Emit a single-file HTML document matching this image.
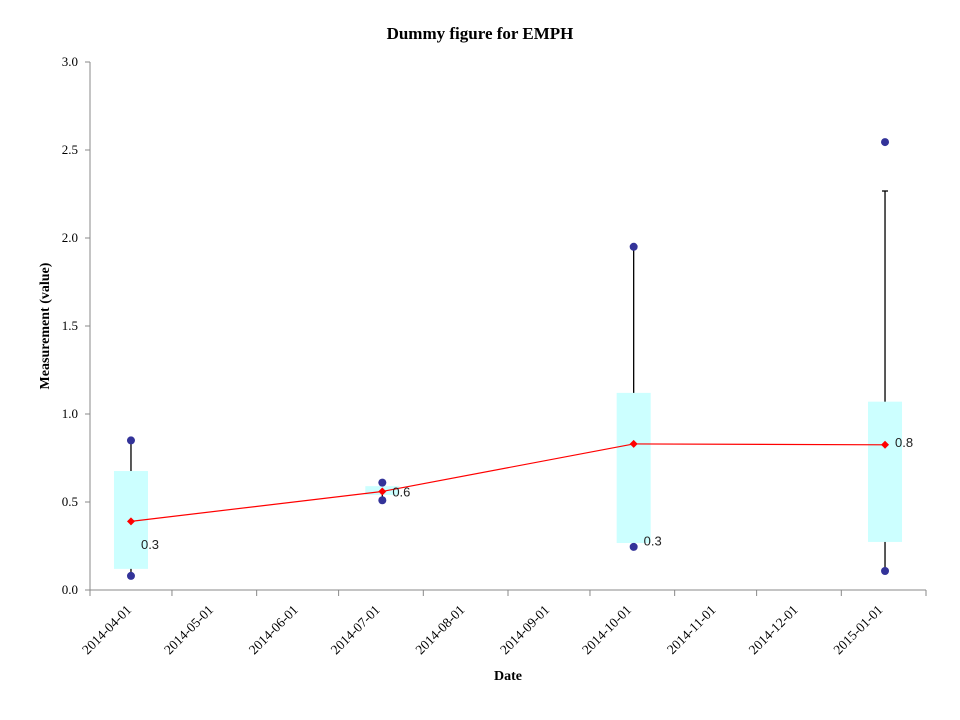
<!DOCTYPE html>
<html><head><meta charset="utf-8"><style>
body{margin:0;background:#fff}
svg{display:block}
.serif{font-family:"Liberation Serif",serif}
.sans{font-family:"Liberation Sans",sans-serif}
</style></head><body>
<svg id="chart" width="960" height="720">
<text class="serif" x="480" y="39" text-anchor="middle" font-size="17" font-weight="bold">Dummy figure for EMPH</text>
<text class="serif" transform="translate(49,326) rotate(-90)" text-anchor="middle" font-size="14" font-weight="bold">Measurement (value)</text>
<text class="serif" x="508" y="680" text-anchor="middle" font-size="14" font-weight="bold">Date</text>
<g id="axes"></g>
<g id="marks"></g>
</svg>
<script>
const tickDates=["2014-04-01","2014-05-01","2014-06-01","2014-07-01","2014-08-01","2014-09-01","2014-10-01","2014-11-01","2014-12-01","2015-01-01"];
const yTicks=[0,0.5,1.0,1.5,2.0,2.5,3.0];
const groupDates=["2014-04-16","2014-07-17","2014-10-17","2015-01-17"];
const boxLow=[0.12,0.54,0.267,0.273];
const boxHigh=[0.676,0.59,1.12,1.07];
const whiskerLow=[0.08,0.51,0.245,0.108];
const whiskerHigh=[0.85,0.61,1.95,2.267];
const outliersHigh=[0.85,0.61,1.95,2.545];
const outliersLow=[0.08,0.51,0.245,0.108];
const means=[0.39,0.56,0.83,0.825];
const labelText=["0.3","0.6","0.3","0.8"];
const labelValues=[0.26,0.56,0.28,0.84];

const NS="http://www.w3.org/2000/svg";
const X0=90,X1=926,Y0=590,Y1=62;
const d0=Date.parse("2014-04-01"),d1=Date.parse("2015-02-01");
const xs=d=>X0+(Date.parse(d)-d0)/(d1-d0)*(X1-X0);
const ys=v=>Y0-(v/3)*(Y0-Y1);
function mk(tag,attrs,parent){const e=document.createElementNS(NS,tag);for(const k in attrs)e.setAttribute(k,attrs[k]);parent.appendChild(e);return e;}
const axes=document.getElementById('axes'),marks=document.getElementById('marks');

let ax=mk('line',{x1:X0,y1:Y1,x2:X0,y2:Y0,stroke:'#888'},axes);


let bx=mk('line',{x1:X0,y1:Y0,x2:X1,y2:Y0,stroke:'#888'},axes);


yTicks.forEach(v=>{
  const y=ys(v);
  let t=mk('line',{x1:X0-5,y1:y,x2:X0,y2:y,stroke:'#888'},axes);
  
  
  let l=mk('text',{x:X0-12,y:y+4,'text-anchor':'end','font-size':13,class:'serif'},axes);
  l.textContent=v.toFixed(1);
  
  
});
tickDates.concat(["2015-02-01"]).forEach((d,i)=>{
  const x=xs(d);
  let t=mk('line',{x1:x,y1:Y0,x2:x,y2:Y0+6,stroke:'#888'},axes);
  
  
  if(i<tickDates.length){
    const cx=x+17,cy=Y0+40;
    let l=mk('text',{x:cx,y:cy+4,'text-anchor':'middle','font-size':13.5,class:'serif',transform:`rotate(-45 ${cx} ${cy})`},axes);
    l.textContent=d;
    
    
  }
});
groupDates.forEach((d,i)=>{
  const x=xs(d);
  let w=mk('line',{x1:x,y1:ys(whiskerHigh[i]),x2:x,y2:ys(whiskerLow[i]),stroke:'#000','stroke-width':1.3},marks);
  
  
  let c=mk('line',{x1:x-3,y1:ys(whiskerHigh[i]),x2:x+3,y2:ys(whiskerHigh[i]),stroke:'#000','stroke-width':1.3},marks);
  
  
  let b=mk('rect',{x:x-17,y:ys(boxHigh[i]),width:34,height:ys(boxLow[i])-ys(boxHigh[i]),fill:'#ccffff'},marks);
  
  
  [outliersHigh[i],outliersLow[i]].forEach(v=>{
    let p=mk('circle',{cx:x,cy:ys(v),r:4,fill:'#333399'},marks);
    
    
  });
});
let pts=groupDates.map((d,i)=>xs(d)+','+ys(means[i])).join(' ');
let ml=mk('polyline',{points:pts,fill:'none',stroke:'#ff0000','stroke-width':1.2},marks);


groupDates.forEach((d,i)=>{
  const x=xs(d),y=ys(means[i]);
  let m=mk('polygon',{points:`${x},${y-4} ${x+4},${y} ${x},${y+4} ${x-4},${y}`,fill:'#ff0000'},marks);
  
  
  let t=mk('text',{x:x+10,y:ys(labelValues[i])+5,'font-size':13,class:'sans',fill:'#222'},marks);
  t.textContent=labelText[i];
  
  
});
</script>
</body></html>
